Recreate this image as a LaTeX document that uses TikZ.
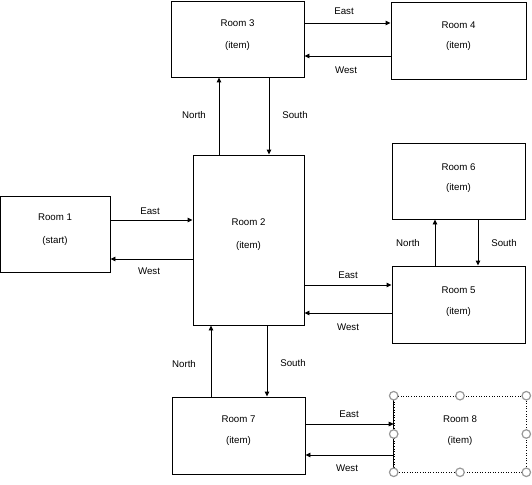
\documentclass[tikz,border=0pt]{standalone}
\usepackage{fontspec}
\setmainfont{Liberation Sans}
\usetikzlibrary{arrows.meta}
\begin{document}
\begin{tikzpicture}[x=1pt,y=-1pt,
  room/.style={draw,line width=0.9pt,fill=white,inner sep=0pt},
  conn/.style={line width=0.9pt,-{Triangle[length=5pt,width=4.5pt]}},
  lbl/.style={font=\fontsize{9.7}{11}\selectfont,inner sep=0pt},
  handle/.style={draw=gray!80,line width=1.2pt,fill=white,circle,minimum size=8.5pt,inner sep=0pt}]
\useasboundingbox (0,0) rectangle (532,484);
% rooms
\node[room,minimum width=110pt,minimum height=76pt] (r1) at (55,234) {};
\node[room,minimum width=111pt,minimum height=170pt] (r2) at (248.5,240) {};
\node[room,minimum width=133pt,minimum height=76pt] (r3) at (237.5,39) {};
\node[room,minimum width=135pt,minimum height=77pt] (r4) at (458.5,40.5) {};
\node[room,minimum width=133pt,minimum height=76pt] (r6) at (458.5,181) {};
\node[room,minimum width=133pt,minimum height=77pt] (r5) at (458.5,304.5) {};
\node[room,minimum width=133pt,minimum height=77pt] (r7) at (238.5,435.5) {};
\node[draw,line width=0.6pt,dotted,minimum width=132pt,minimum height=76pt,inner sep=0pt] (r8) at (460,434) {};
% texts
\node[lbl] (t1a) at (55,217) {Room 1}; \node[lbl] (t1b) at (55,241) {(start)};
\node[lbl] (t2a) at (248.5,222) {Room 2}; \node[lbl] (t2b) at (248.5,246) {(item)};
\node[lbl] (t3a) at (237.5,23) {Room 3}; \node[lbl] (t3b) at (237.5,46) {(item)};
\node[lbl] (t4a) at (458.5,25) {Room 4}; \node[lbl] (t4b) at (458.5,46) {(item)};
\node[lbl] (t6a) at (458.5,167) {Room 6}; \node[lbl] (t6b) at (458.5,188) {(item)};
\node[lbl] (t5a) at (458.5,290) {Room 5}; \node[lbl] (t5b) at (458.5,312) {(item)};
\node[lbl] (t7a) at (238.5,419) {Room 7}; \node[lbl] (t7b) at (238.5,441) {(item)};
\node[lbl] (t8a) at (460,419) {Room 8}; \node[lbl] (t8b) at (460,441) {(item)};
% connectors
\draw[conn] (r1.east |- 0,220) -- (r2.west |- 0,220);
\draw[conn] (r2.west |- 0,259) -- (r1.east |- 0,259);
\draw[conn] (r2.north -| 219,0) -- (r3.south -| 219,0);
\draw[conn] (r3.south -| 269,0) -- (r2.north -| 269,0);
\draw[conn] (r3.east |- 0,23) -- (r4.west |- 0,23);
\draw[conn] (r4.west |- 0,56) -- (r3.east |- 0,56);
\draw[conn] (r2.east |- 0,285) -- (r5.west |- 0,285);
\draw[conn] (r5.west |- 0,313) -- (r2.east |- 0,313);
\draw[conn] (r5.north -| 435,0) -- (r6.south -| 435,0);
\draw[conn] (r6.south -| 478,0) -- (r5.north -| 478,0);
\draw[conn] (r2.south -| 267,0) -- (r7.north -| 267,0);
\draw[conn] (r7.north -| 211,0) -- (r2.south -| 211,0);
\draw[conn] (r7.east |- 0,424) -- (r8.west |- 0,424);
\draw[conn] (r8.west |- 0,455) -- (r7.east |- 0,455);
\draw[line width=0.9pt] (r8.north west) -- (r8.south west);
% labels
\node[lbl] (e12) at (150,211) {East};
\node[lbl] (w21) at (149,271) {West};
\node[lbl] (n23) at (194,115) {North};
\node[lbl] (s32) at (295,115) {South};
\node[lbl] (e34) at (344,11) {East};
\node[lbl] (w43) at (346,70) {West};
\node[lbl] (e25) at (348,275) {East};
\node[lbl] (w52) at (348,327) {West};
\node[lbl] (n56) at (408,243) {North};
\node[lbl] (s65) at (504,243) {South};
\node[lbl] (s27) at (293,363) {South};
\node[lbl] (n72) at (184,364) {North};
\node[lbl] (e78) at (349,414) {East};
\node[lbl] (w87) at (347,468) {West};
% selection handles
\foreach \p in {north west,north,north east,west,east,south west,south,south east}
  \node[handle] at (r8.\p) {};
\end{tikzpicture}
\end{document}
